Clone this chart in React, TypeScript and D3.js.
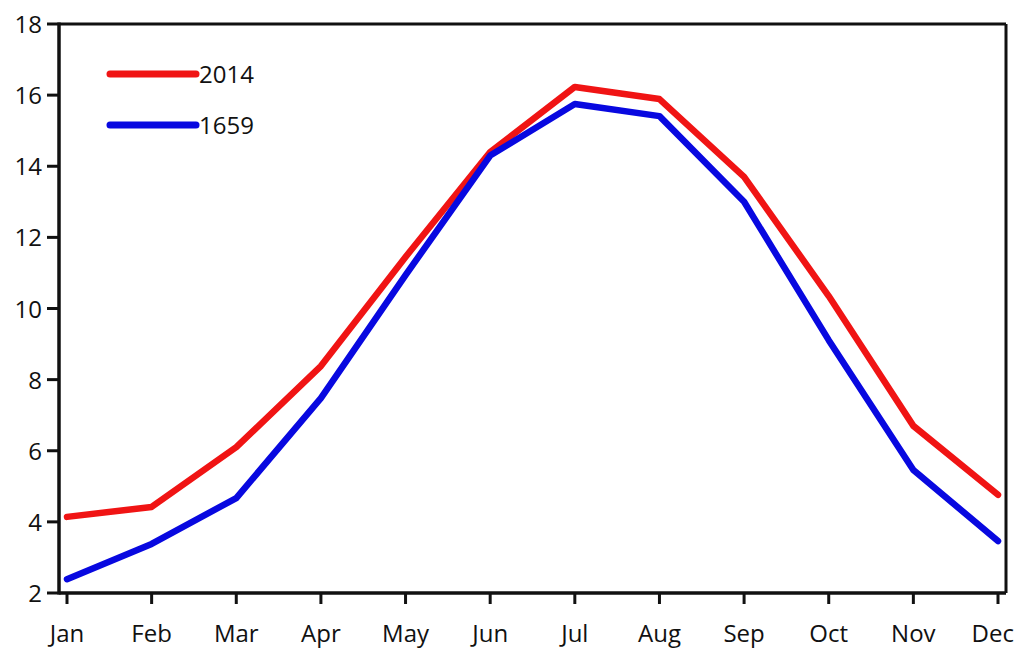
import React from "react";
import * as d3 from "d3";

const months = ["Jan", "Feb", "Mar", "Apr", "May", "Jun", "Jul", "Aug", "Sep", "Oct", "Nov", "Dec"];
const temps2014 = [4.14, 4.42, 6.1, 8.38, 11.45, 14.4, 16.23, 15.89, 13.7, 10.35, 6.7, 4.76];
const temps1659 = [2.39, 3.38, 4.67, 7.48, 10.94, 14.3, 15.75, 15.41, 13.0, 9.11, 5.46, 3.46];
const yTicks = [2, 4, 6, 8, 10, 12, 14, 16, 18];
const seriesNames = ["2014", "1659"];
const seriesColors = ["#f01414", "#0808e0"];

export default function App() {
  const W = 1016, H = 648;
  const left = 59, right = 1006, top = 24, bottom = 593;
  const x = d3.scalePoint<string>().domain(months).range([67, 998]);
  const y = d3.scaleLinear().domain([2, 18]).range([bottom, top]);
  const line = d3.line<number>().x((_, i) => x(months[i]) as number).y((d) => y(d));
  const series = [temps2014, temps1659];
  const font = "'Open Sans', 'Noto Sans', sans-serif";
  return (
    <svg width={W} height={H} style={{ position: "absolute", left: 0, top: 0, background: "#fff" }}>
      {series.map((s, i) => (
        <path key={i} d={line(s) || ""} fill="none" stroke={seriesColors[i]} strokeWidth={6.5} strokeLinejoin="round" strokeLinecap="round" />
      ))}
      <line x1={left} x2={right} y1={top} y2={top} stroke="#111" strokeWidth={3} />
      <line x1={right} x2={right} y1={top} y2={bottom} stroke="#111" strokeWidth={3} />
      <line x1={left} x2={left} y1={top - 1.5} y2={bottom + 1.5} stroke="#111" strokeWidth={3.5} />
      <line x1={left} x2={right} y1={bottom} y2={bottom} stroke="#111" strokeWidth={3.5} />
      {yTicks.map((t) => (
        <g key={t}>
          <line x1={47} x2={left} y1={y(t)} y2={y(t)} stroke="#111" strokeWidth={3} />
          <text x={42} y={y(t) + 9} textAnchor="end" fontFamily={font} fontSize={24} fill="#111">{t}</text>
        </g>
      ))}
      {months.map((m, i) => {
        const last = i === months.length - 1;
        return (
          <g key={m}>
            <line x1={x(m)} x2={x(m)} y1={bottom} y2={bottom + 11} stroke="#111" strokeWidth={3} />
            <text x={last ? 1014 : x(m)} y={642} textAnchor={last ? "end" : "middle"} fontFamily={font} fontSize={24} fill="#111">{m}</text>
          </g>
        );
      })}
      {seriesNames.map((n, i) => (
        <g key={n}>
          <line x1={110} x2={196} y1={74 + i * 51} y2={74 + i * 51} stroke={seriesColors[i]} strokeWidth={7} strokeLinecap="round" />
          <text x={199} y={83 + i * 51} fontFamily={font} fontSize={24} fill="#111">{n}</text>
        </g>
      ))}
    </svg>
  );
}
